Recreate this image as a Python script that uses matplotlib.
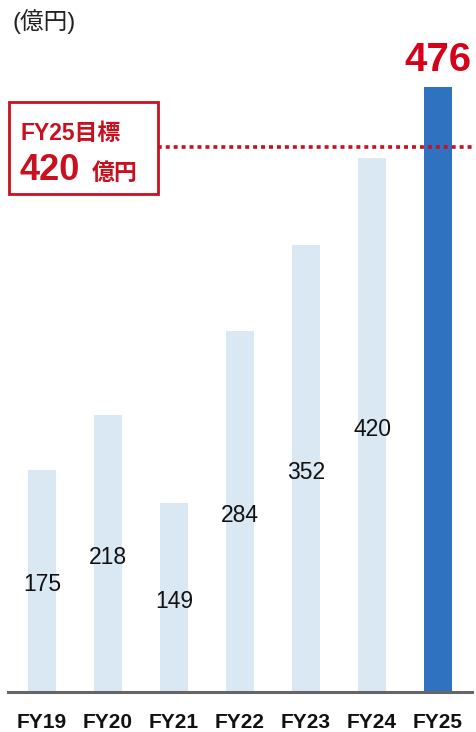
import numpy as np
import matplotlib.pyplot as plt

plt.rcParams['font.family'] = ['Liberation Sans', 'Noto Sans CJK JP', 'DejaVu Sans']

years = ["FY19", "FY20", "FY21", "FY22", "FY23", "FY24", "FY25"]
values = [175, 218, 149, 284, 352, 420, 476]
target = 420
target_line = 429   # dotted line sits a little above the 420 level in the original
unit = "(億円)"

light = "#DAE8F3"
dark = "#2E72C0"
red = "#C8101E"

fig = plt.figure(figsize=(4.76, 7.32), dpi=100)
ax = fig.add_axes([8 / 476, 40 / 732, 464 / 476, 692 / 732])

x = np.arange(len(years))
colors = [light] * (len(years) - 1) + [dark]
ax.bar(x, values, width=0.41, color=colors, zorder=2)

for i, v in enumerate(values[:-1]):
    ax.text(i, v / 2 - 8.4, str(v), ha="center", va="baseline", fontsize=16.5, color="#111111", zorder=3)
ax.text(x[-1], values[-1] + 21, str(values[-1]), ha="center", va="center",
        fontsize=29, fontweight="bold", color="#D7001A")

ax.set_xlim(-0.515, 6.515)
ax.set_ylim(0, 544.4)

# target line from the box to the right edge
ax.plot([1.75 - 0.515 + 0.04, 6.515], [target_line, target_line], color=red,
        linestyle=(0, (1.1, 1.1)), linewidth=2.6, zorder=4, solid_capstyle="butt")

for s in ["top", "right", "left"]:
    ax.spines[s].set_visible(False)
ax.spines["bottom"].set_color("#666666")
ax.spines["bottom"].set_linewidth(2.2)
ax.set_yticks([])
ax.set_xticks(x)
ax.set_xticklabels(years, fontsize=15, fontweight="bold", color="#111111")
ax.tick_params(axis="x", length=0, pad=15)

fig.text(12 / 476, 1 - 22 / 732, unit, fontsize=17, color="#222222", va="center", ha="left")

# target box
box = plt.Rectangle((9 / 476, 1 - 194 / 732), 149 / 476, 92 / 732, transform=fig.transFigure,
                    fill=True, facecolor="white", edgecolor=red, linewidth=2)
fig.patches.append(box)
fig.text(21 / 476, 1 - 134 / 732, "FY25目標", fontsize=16.5, fontweight="bold",
         color=red, va="center", ha="left")
fig.text(19 / 476, 1 - 170 / 732, str(target), fontsize=26, fontweight="bold",
         color=red, va="center", ha="left")
fig.text(92 / 476, 1 - 173 / 732, "億円", fontsize=16.5, fontweight="bold",
         color=red, va="center", ha="left")

fig.savefig("out.png", dpi=100)
